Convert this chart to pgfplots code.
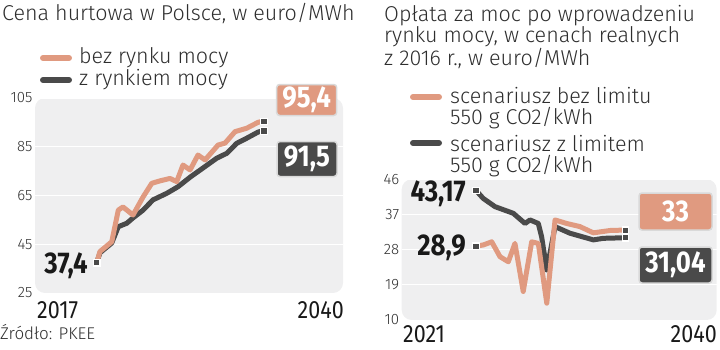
\documentclass[border=0pt]{standalone}
\usepackage{pgfplots}
\pgfplotsset{compat=1.18}
\usepackage{fontspec}
\setmainfont{Fira Sans}[UprightFont=* Light, BoldFont=* Bold]
\newfontfamily\numfont[FakeStretch=0.86]{Fira Sans}
\definecolor{orng}{HTML}{E09A80}
\definecolor{drk}{HTML}{4A4A4A}
\definecolor{bgc}{HTML}{EFEFF0}
\definecolor{txt}{HTML}{2E2E2E}
\pgfplotsset{
  mystyle/.style={
    scale only axis, clip=false,
    axis line style={draw=none}, tick style={draw=none},
    axis background/.style={fill=bgc, rounded corners=10pt},
    ymajorgrids, grid style={white, line width=1pt},
    xtick=\empty,
    /pgf/number format/assume math mode=true,
    yticklabel style={font=\fontsize{15}{15}\selectfont, text=txt, xshift=1pt},
  },
  oline/.style={orng, line width=5pt, line join=round, line cap=round, mark=none},
  dline/.style={drk, line width=5pt, line join=round, line cap=round, mark=none},
  mk/.style={only marks, mark=square*, mark size=3.2pt, mark options={fill=drk, draw=white, line width=1.2pt}},
}
\tikzset{
  vbox/.style={rounded corners=3pt, draw=black!15, line width=1.5pt, text=white,
    font=\numfont\bfseries\fontsize{30}{30}\selectfont, inner sep=0pt},
  big/.style={font=\numfont\bfseries\fontsize{30}{30}\selectfont, text=black!90, inner sep=0pt},
  ttl/.style={font=\fontsize{21.5}{21}\selectfont, text=txt, inner sep=0pt},
  yr/.style={font=\numfont\fontsize{25}{25}\selectfont, text=black!90, inner sep=0pt},
}
\begin{document}
\begin{tikzpicture}[x=1pt,y=1pt]
\path (0,0) rectangle (720,349);
% ---------- left chart ----------
\begin{axis}[mystyle, at={(35pt,56pt)}, anchor=south west, width=308pt, height=195pt,
  xmin=2017, xmax=2040, ymin=25, ymax=105, ytick={25,45,65,85,105}]
\addplot[dline] coordinates {(2021.61,37.4)(2021.85,41.5)(2022.73,45.5)(2023.22,52.2)(2023.85,53.6)(2024.32,55.8)(2025.07,59)(2025.81,63.2)(2026.84,65.9)(2027.68,68.6)(2028.58,72.5)(2029.55,76.3)(2030.57,80.3)(2031.32,82.3)(2032.06,86.4)(2032.81,88.5)(2033.65,91.0)(2033.95,91.5)};
\addplot[oline] coordinates {(2021.61,37.4)(2021.85,42)(2022.73,46)(2023.22,59)(2023.57,60.3)(2024.32,57)(2025.07,64.4)(2025.72,70)(2026.33,71)(2027.08,72)(2027.58,70.7)(2028.05,77.5)(2028.58,75.5)(2029.17,81.6)(2029.70,79.6)(2030.67,85.7)(2031.19,86.5)(2031.94,91.2)(2032.81,92.6)(2033.65,95.0)(2033.95,95.4)};
\addplot[mk] coordinates {(2021.61,37.4)(2034.1,95.4)(2034.1,91.5)};
\end{axis}
% ---------- right chart ----------
\begin{axis}[mystyle, at={(401.7pt,29pt)}, anchor=south west, width=315pt, height=140.7pt,
  xmin=2021, xmax=2040, ymin=10, ymax=46, ytick={10,19,28,37,46}]
\addplot[dline] coordinates {(2025.48,43.17)(2025.92,41.1)(2026.63,39.0)(2027.73,37.3)(2028.44,34.7)(2028.74,35.6)(2029.24,34.7)(2029.44,31.3)(2029.75,22.8)(2030.25,33.9)(2031.15,32.2)(2032.56,30.5)(2033.16,30.9)(2034.37,31.04)};
\addplot[oline] coordinates {(2025.48,28.9)(2025.92,29.2)(2026.43,30.0)(2026.93,26.2)(2027.43,24.9)(2027.83,29.6)(2028.33,17.3)(2028.84,30.0)(2029.24,29.6)(2029.75,14.3)(2030.25,35.6)(2030.95,34.7)(2031.75,33.9)(2032.56,32.3)(2033.56,32.9)(2034.37,33.0)};
\addplot[mk] coordinates {(2025.48,43.17)(2025.48,28.9)(2034.5,33)(2034.5,31.04)};
\end{axis}
% ---------- texts ----------
\node[ttl, anchor=west] at (2,336) {Cena hurtowa w Polsce, w euro/MWh};
\draw[orng, line width=6pt, line cap=round] (43,291) -- (69,291);
\node[ttl, anchor=west] at (79,291) {bez rynku mocy};
\draw[drk, line width=6pt, line cap=round] (43,269) -- (69,269);
\node[ttl, anchor=west] at (79,269) {z rynkiem mocy};
\node[yr, anchor=west] at (37,39) {2017};
\node[yr, anchor=east] at (344,39) {2040};
\node[anchor=west, font=\fontsize{17}{17}\selectfont, text=txt, inner sep=0pt] at (0,17) {Źródło: PKEE};
\node[big, anchor=east] at (88,83) {37,4};
\node[vbox, fill=orng, minimum width=60pt, minimum height=31pt] at (306.7,249) {95,4};
\node[vbox, fill=drk, minimum width=60pt, minimum height=35pt] at (307,190) {91,5};
% right texts
\node[ttl, anchor=north west, align=left] at (384,344) {Opłata za moc po wprowadzeniu\\rynku mocy, w cenach realnych\\z 2016 r., w euro/MWh};
\draw[orng, line width=6pt, line cap=round] (413,252) -- (439,252);
\node[ttl, anchor=north west, align=left] at (450,262) {scenariusz bez limitu\\550 g CO2/kWh};
\draw[drk, line width=6pt, line cap=round] (413,206) -- (439,206);
\node[ttl, anchor=north west, align=left] at (450,214) {scenariusz z limitem\\550 g CO2/kWh};
\node[yr, anchor=west] at (403,15) {2021};
\node[yr, anchor=east] at (717,15) {2040};
\node[big, anchor=east] at (466,155) {43,17};
\node[big, anchor=east] at (466,101) {28,9};
\node[vbox, fill=orng, minimum width=73pt, minimum height=37pt] at (675.5,137.5) {33};
\node[vbox, fill=drk, minimum width=73pt, minimum height=36pt] at (675.5,84) {31,04};
\end{tikzpicture}
\end{document}
